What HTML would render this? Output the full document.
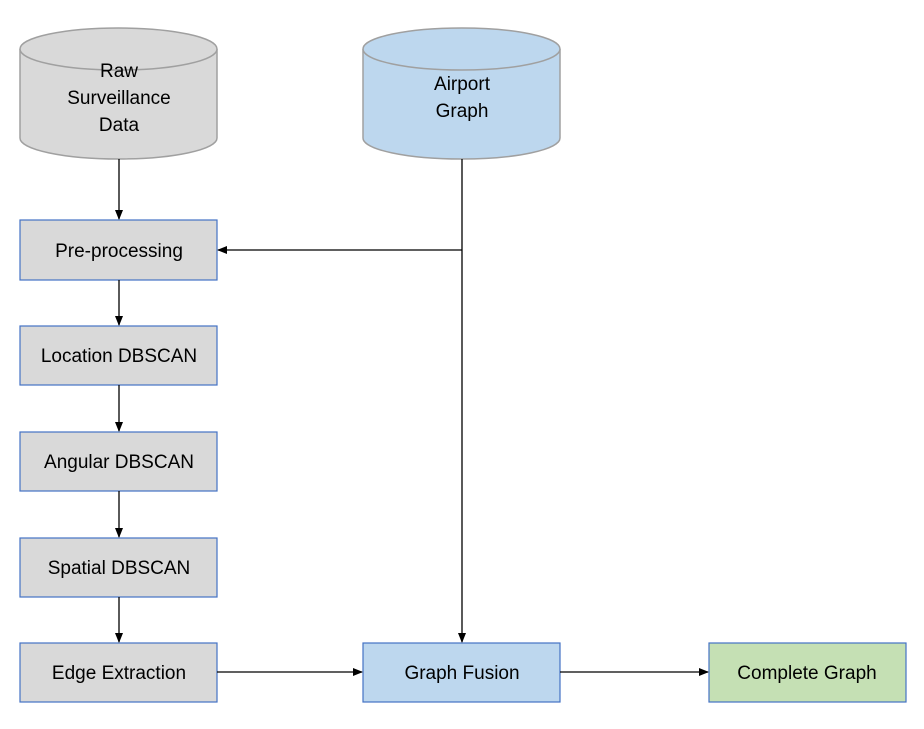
<!DOCTYPE html>
<html><head><style>body{margin:0;background:#fff}</style></head><body>
<svg width="924" height="724" xmlns="http://www.w3.org/2000/svg" font-family="'Liberation Sans',sans-serif" font-size="19" fill="#000">
<defs><marker id="a" markerWidth="10" markerHeight="10" refX="9" refY="5" orient="auto" markerUnits="userSpaceOnUse"><path d="M0,1 L10,5 L0,9 z" fill="#000"/></marker></defs>
<!-- cylinders -->
<path d="M20,49 L20,138 A98.5,21 0 0 0 217,138 L217,49" fill="#d9d9d9" stroke="#a0a0a0" stroke-width="1.5"/>
<ellipse cx="118.5" cy="49" rx="98.5" ry="21" fill="#d9d9d9" stroke="#a0a0a0" stroke-width="1.5"/>
<path d="M363,49 L363,138 A98.5,21 0 0 0 560,138 L560,49" fill="#bdd7ee" stroke="#a0a0a0" stroke-width="1.5"/>
<ellipse cx="461.5" cy="49" rx="98.5" ry="21" fill="#bdd7ee" stroke="#a0a0a0" stroke-width="1.5"/>
<g text-anchor="middle">
<text x="119" y="77">Raw</text><text x="119" y="104">Surveillance</text><text x="119" y="131">Data</text>
<text x="462" y="90">Airport</text><text x="462" y="117">Graph</text>
</g>
<!-- boxes -->
<g stroke="#4472c4" stroke-width="1.2">
<rect x="20" y="220" width="197" height="60" fill="#d9d9d9"/>
<rect x="20" y="326" width="197" height="59" fill="#d9d9d9"/>
<rect x="20" y="432" width="197" height="59" fill="#d9d9d9"/>
<rect x="20" y="538" width="197" height="59" fill="#d9d9d9"/>
<rect x="20" y="643" width="197" height="59" fill="#d9d9d9"/>
<rect x="363" y="643" width="197" height="59" fill="#bdd7ee"/>
<rect x="709" y="643" width="197" height="59" fill="#c5e0b4"/>
</g>
<g text-anchor="middle">
<text x="119" y="257">Pre-processing</text>
<text x="119" y="362">Location DBSCAN</text>
<text x="119" y="468">Angular DBSCAN</text>
<text x="119" y="574">Spatial DBSCAN</text>
<text x="119" y="679">Edge Extraction</text>
<text x="462" y="679">Graph Fusion</text>
<text x="807" y="679">Complete Graph</text>
</g>
<g stroke="#000" stroke-width="1.3" fill="none">
<line x1="119" y1="159" x2="119" y2="219" marker-end="url(#a)"/>
<line x1="119" y1="280" x2="119" y2="325" marker-end="url(#a)"/>
<line x1="119" y1="385" x2="119" y2="431" marker-end="url(#a)"/>
<line x1="119" y1="491" x2="119" y2="537" marker-end="url(#a)"/>
<line x1="119" y1="597" x2="119" y2="642" marker-end="url(#a)"/>
<line x1="462" y1="159" x2="462" y2="642" marker-end="url(#a)"/>
<line x1="462" y1="250" x2="218" y2="250" marker-end="url(#a)"/>
<line x1="217" y1="672" x2="362" y2="672" marker-end="url(#a)"/>
<line x1="560" y1="672" x2="708" y2="672" marker-end="url(#a)"/>
</g>
</svg>
</body></html>
